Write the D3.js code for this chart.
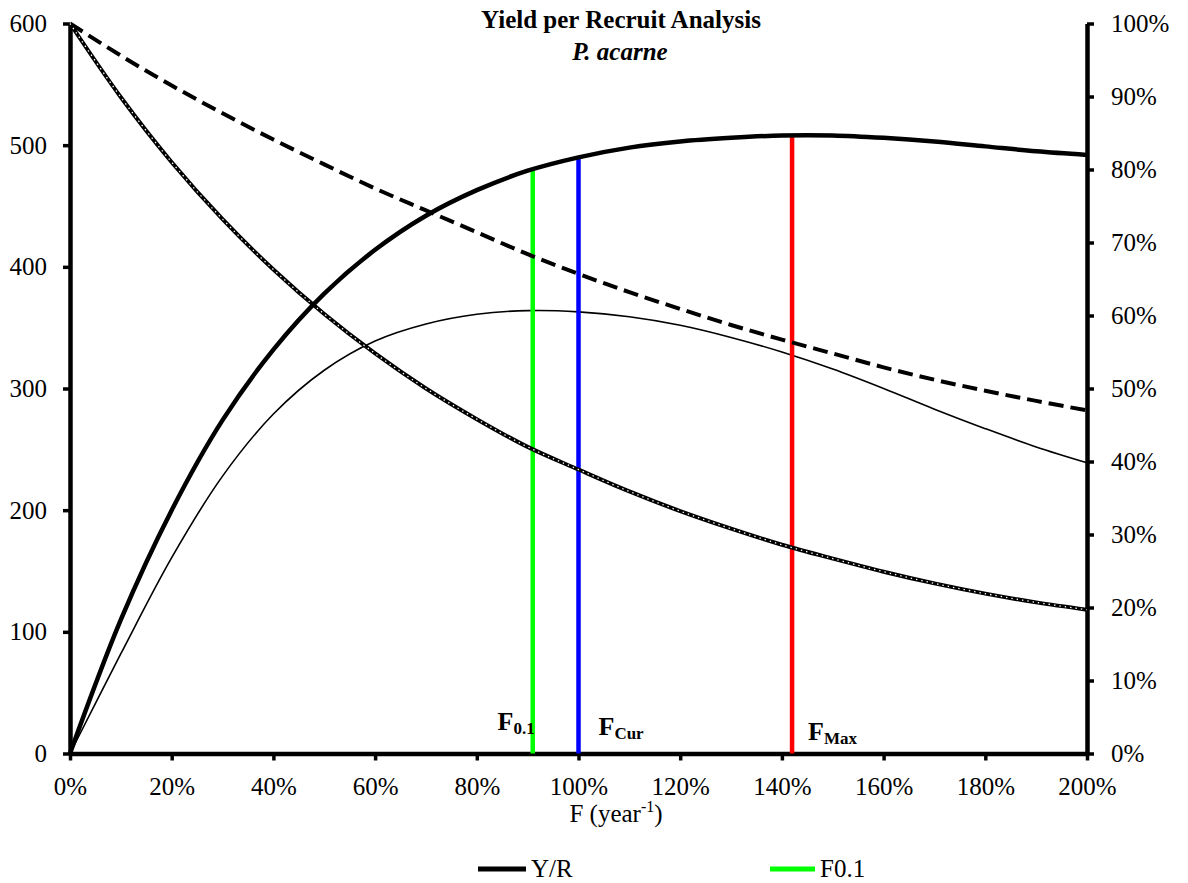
<!DOCTYPE html>
<html>
<head>
<meta charset="utf-8">
<script src="https://cdn.jsdelivr.net/npm/d3@7"></script>
<style>
  html, body { margin: 0; padding: 0; background: #fff; }
  svg { display: block; font-family: "Liberation Serif", "Times New Roman", serif; }
</style>
</head>
<body>
<svg id="chart" width="1188" height="883"></svg>
<script>
// Fishing mortality grid (year^-1)
const fishingMortality = [0, 0.1, 0.2, 0.3, 0.4, 0.5, 0.6, 0.7, 0.8, 0.9, 1.0,
                          1.1, 1.2, 1.3, 1.4, 1.5, 1.6, 1.7, 1.8, 1.9, 2.0];

// Left-axis series
const yieldPerRecruit = [0, 110, 200, 274, 332, 378, 414, 442, 463, 479, 490,
                         498, 503, 506, 508, 508, 506, 503, 499, 495, 492];
const valuePerRecruit = [0, 82, 161, 228, 279, 315, 339, 353, 361, 364, 363,
                         359, 352, 342, 330, 316, 300, 283, 267, 252, 239];

// Right-axis series (% of unexploited level)
const biomassPct = [100, 95.6, 91.5, 87.7, 84.1, 80.7, 77.4, 74.4, 71.4, 68.4, 65.7,
                    63.2, 60.9, 58.7, 56.7, 54.8, 52.9, 51.2, 49.7, 48.3, 47.0];
const spawnerPct = [100, 89.9, 81.0, 73.2, 66.3, 60.2, 54.8, 50.0, 45.8, 42.0, 38.9,
                    35.9, 33.2, 30.8, 28.6, 26.7, 24.9, 23.3, 21.9, 20.7, 19.7];

// Reference points
const refMain = ["F", "F", "F"];
const refSub = ["0.1", "Cur", "Max"];
const refF = [0.91, 1.0, 1.42];
const refYield = [481, 491, 508];

// Axis ticks
const xTicks = [0, 0.2, 0.4, 0.6, 0.8, 1.0, 1.2, 1.4, 1.6, 1.8, 2.0];
const leftTicks = [0, 100, 200, 300, 400, 500, 600];
const rightTicks = [0, 10, 20, 30, 40, 50, 60, 70, 80, 90, 100];

// Legend entries
const legendLabels = ["Y/R", "F0.1"];

// ---- layout & styles ----
const plot = { left: 70, right: 1087, top: 23.5, bottom: 753.5 };
const refColors = ["#00ff00", "#0000ff", "#ff0000"];
const refLabelLayout = [
  { dx: 2, baseline: 730, anchor: "end" },
  { dx: 20, baseline: 735, anchor: "start" },
  { dx: 16, baseline: 740, anchor: "start" }
];
const legendLayout = [
  { x1: 478, x2: 526, color: "#000" },
  { x1: 770, x2: 815, color: "#00ff00" }
];

const svg = d3.select("#chart");

const x = d3.scaleLinear().domain([0, 2]).range([plot.left, plot.right]);
const yL = d3.scaleLinear().domain([0, 600]).range([plot.bottom, plot.top]);
const yR = d3.scaleLinear().domain([0, 100]).range([plot.bottom, plot.top]);

const pct = d3.format(".0%");

// Axes
function styleAxis(g) {
  g.select(".domain").attr("stroke", "#000").attr("stroke-width", 4.5);
  g.selectAll(".tick line").attr("stroke", "#000").attr("stroke-width", 3.5);
  g.selectAll(".tick text").attr("fill", "#000").style("font-size", "25px")
    .style("font-family", "'Liberation Serif','Times New Roman',serif");
}

svg.append("g")
  .attr("transform", `translate(${plot.left},0)`)
  .call(d3.axisLeft(yL).tickValues(leftTicks).tickFormat(d3.format("d"))
    .tickSize(7).tickSizeOuter(0).tickPadding(16))
  .call(styleAxis);

svg.append("g")
  .attr("transform", `translate(${plot.right},0)`)
  .call(d3.axisRight(yR).tickValues(rightTicks).tickFormat(d => d + "%")
    .tickSize(7).tickSizeOuter(0).tickPadding(17))
  .call(styleAxis);

svg.append("g")
  .attr("transform", `translate(0,${plot.bottom})`)
  .call(d3.axisBottom(x).tickValues(xTicks).tickFormat(pct)
    .tickSize(7).tickSizeOuter(0).tickPadding(17))
  .call(styleAxis);

// Series data
const rows = fishingMortality.map((f, i) => ({
  f,
  ypr: yieldPerRecruit[i],
  vpr: valuePerRecruit[i],
  bio: biomassPct[i],
  ssb: spawnerPct[i]
}));

const curve = d3.curveCatmullRom.alpha(0.5);
const lineL = key => d3.line().x(d => x(d.f)).y(d => yL(d[key])).curve(curve);
const lineR = key => d3.line().x(d => x(d.f)).y(d => yR(d[key])).curve(curve);

const marks = svg.append("g").attr("fill", "none");

// Thin curve
marks.append("path").datum(rows).attr("d", lineL("vpr"))
  .attr("stroke", "#000").attr("stroke-width", 1.6);

// Reference lines from zero up to the yield curve
marks.selectAll(".ref")
  .data(refF)
  .join("line")
  .attr("class", "ref")
  .attr("x1", d => x(d)).attr("x2", d => x(d))
  .attr("y1", yL(0))
  .attr("y2", (d, i) => yL(refYield[i]))
  .attr("stroke", (d, i) => refColors[i])
  .attr("stroke-width", 4.5);

// Dashed % curve
marks.append("path").datum(rows).attr("d", lineR("bio"))
  .attr("stroke", "#000").attr("stroke-width", 4)
  .attr("stroke-dasharray", "15,7");

// Declining % curve with white dotted core
marks.append("path").datum(rows).attr("d", lineR("ssb"))
  .attr("stroke", "#000").attr("stroke-width", 4);
marks.append("path").datum(rows).attr("d", lineR("ssb"))
  .attr("stroke", "#fff").attr("stroke-width", 1.3)
  .attr("stroke-dasharray", "1.4,4");

// Yield per recruit
marks.append("path").datum(rows).attr("d", lineL("ypr"))
  .attr("stroke", "#000").attr("stroke-width", 4.5);

// Reference labels
refF.forEach((f, i) => {
  const lay = refLabelLayout[i];
  const t = svg.append("text")
    .attr("x", x(f) + lay.dx)
    .attr("y", lay.baseline)
    .attr("text-anchor", lay.anchor)
    .attr("font-weight", "bold")
    .attr("font-size", 26)
    .attr("fill", "#000");
  t.append("tspan").text(refMain[i]);
  t.append("tspan").attr("font-size", 17).attr("dy", 4).text(refSub[i]);
});

// Titles
svg.append("text")
  .attr("x", 621).attr("y", 28)
  .attr("text-anchor", "middle")
  .attr("font-weight", "bold").attr("font-size", 25)
  .text("Yield per Recruit Analysis");
svg.append("text")
  .attr("x", 620).attr("y", 60)
  .attr("text-anchor", "middle")
  .attr("font-weight", "bold").attr("font-style", "italic").attr("font-size", 25)
  .text("P. acarne");

// X axis title
const xt = svg.append("text")
  .attr("x", 616).attr("y", 822)
  .attr("text-anchor", "middle")
  .attr("font-size", 25);
xt.append("tspan").text("F (year");
xt.append("tspan").attr("font-size", 16).attr("dy", -10).text("-1");
xt.append("tspan").attr("dy", 10).text(")");

// Legend
legendLabels.forEach((label, i) => {
  const lay = legendLayout[i];
  svg.append("line")
    .attr("x1", lay.x1).attr("x2", lay.x2)
    .attr("y1", 869).attr("y2", 869)
    .attr("stroke", lay.color).attr("stroke-width", 5);
  svg.append("text")
    .attr("x", lay.x2 + 5).attr("y", 877)
    .attr("font-size", 25)
    .text(label);
});
</script>
</body>
</html>
